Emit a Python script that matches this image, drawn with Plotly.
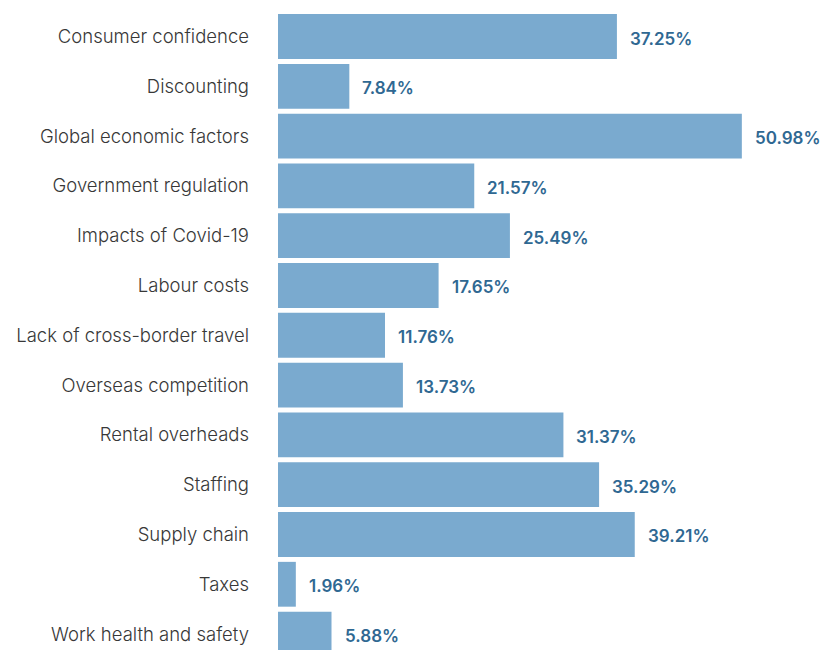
import plotly.graph_objects as go

categories = [
    "Consumer confidence",
    "Discounting",
    "Global economic factors",
    "Government regulation",
    "Impacts of Covid-19",
    "Labour costs",
    "Lack of cross-border travel",
    "Overseas competition",
    "Rental overheads",
    "Staffing",
    "Supply chain",
    "Taxes",
    "Work health and safety",
]
values = [37.25, 7.84, 50.98, 21.57, 25.49, 17.65, 11.76, 13.73, 31.37, 35.29, 39.21, 1.96, 5.88]

BAR_COLOR = "#7aaacf"
LABEL_COLOR = "#2f6892"
TEXT_COLOR = "#383838"

fig = go.Figure(
    go.Bar(
        x=values,
        y=categories,
        orientation="h",
        marker=dict(color=BAR_COLOR, line=dict(width=0)),
        hoverinfo="skip",
    )
)

for cat, val in zip(categories, values):
    fig.add_annotation(
        x=val,
        y=cat,
        text=f"{val:.2f}%",
        showarrow=False,
        xanchor="left",
        yanchor="middle",
        xshift=11,
        yshift=-2,
        font=dict(family="Inter", size=17, color=LABEL_COLOR, weight=600),
    )

fig.update_layout(
    width=823,
    height=650,
    margin=dict(l=278, r=0, t=0, b=0),
    paper_bgcolor="white",
    plot_bgcolor="white",
    bargap=0.1,
    showlegend=False,
    font=dict(family="Inter", size=18, color=TEXT_COLOR),
)
fig.update_xaxes(
    range=[0, 59.9],
    visible=False,
    showgrid=False,
    zeroline=False,
)
fig.update_yaxes(
    type="category",
    categoryorder="array",
    categoryarray=categories,
    range=[12.32, -0.733],
    showgrid=False,
    zeroline=False,
    showline=False,
    ticks="",
    ticklabelstandoff=28,
    tickfont=dict(family="Inter", size=18.5, color=TEXT_COLOR, weight=300),
)

fig.write_html("out.html")
